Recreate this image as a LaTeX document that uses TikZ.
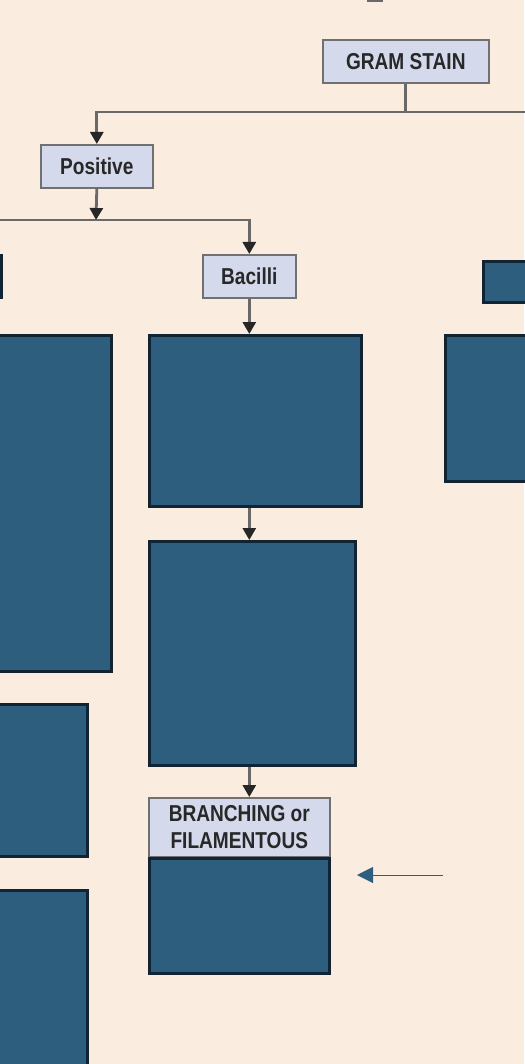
\documentclass[tikz,border=0pt]{standalone}
\usepackage{fontspec}
\setmainfont{Liberation Sans}[FakeStretch=0.83]
\usetikzlibrary{arrows.meta}
\definecolor{bg}{RGB}{250,237,224}
\definecolor{lav}{RGB}{212,217,236}
\definecolor{lavb}{RGB}{112,112,112}
\definecolor{navy}{RGB}{46,94,126}
\definecolor{navyb}{RGB}{16,36,52}
\definecolor{connc}{RGB}{105,105,105}
\definecolor{txt}{RGB}{40,40,40}
\begin{document}
\begin{tikzpicture}[x=1pt,y=-1pt,
  lbl/.style={draw=lavb, fill=lav, line width=1.6pt, inner sep=0pt, anchor=north west,
    font=\bfseries\fontsize{23}{27}\selectfont, text=txt, align=center},
  dbox/.style={draw=navyb, fill=navy, line width=2.6pt, inner sep=0pt, anchor=north west},
  connline/.style={draw=connc, line width=2.8pt},
  arr/.style={connline, -{Triangle[width=13pt,length=12pt,color=black!85]}},
  bluearr/.style={draw=navy, line width=1pt, -{Triangle[width=16pt,length=16pt]}}]
\fill[bg] (0,0) rectangle (524,1064);
\useasboundingbox (0,0) rectangle (524,1064);
% top fragment
\node[fill=connc, minimum width=16pt, minimum height=3pt, inner sep=0pt, anchor=north west] (topb) at (367,-1) {};
% labelled boxes
\node[lbl, minimum width=166pt, minimum height=43pt] (gram) at (322,39) {GRAM STAIN};
\node[lbl, minimum width=112pt, minimum height=43pt] (pos) at (40,144) {Positive};
\node[lbl, minimum width=93pt, minimum height=43pt] (bac) at (202,254) {Bacilli};
% dark boxes, middle column
\node[dbox, minimum width=212pt, minimum height=171pt] (d1) at (148,334) {};
\node[dbox, minimum width=206pt, minimum height=224pt] (d2) at (148,540) {};
\node[lbl, minimum width=181pt, minimum height=59pt] (brh) at (148,797) {BRANCHING or\\FILAMENTOUS};
\node[dbox, minimum width=180pt, minimum height=115pt] (brb) at (148,857) {};
% left column (cut off)
\node[dbox, minimum width=20pt, minimum height=42pt] (l0) at (-20,254) {};
\node[dbox, minimum width=130pt, minimum height=336pt] (l1) at (-20,334) {};
\node[dbox, minimum width=106pt, minimum height=152pt] (l2) at (-20,703) {};
\node[dbox, minimum width=106pt, minimum height=200pt] (l3) at (-20,889) {};
% right column (cut off)
\node[dbox, minimum width=80pt, minimum height=41pt] (r1) at (482,260) {};
\node[dbox, minimum width=120pt, minimum height=146pt] (r2) at (444,334) {};
% connectors
\coordinate (hR) at (540,112);
\draw[connline] (gram.south) |- (hR);
\draw[arr] (gram.south) |- (pos.north |- hR) -- (pos.north);
\coordinate (j2) at (96,220);
\draw[arr] (pos.south) -- (j2);
\coordinate (hL2) at (-10,220);
\draw[arr] (hL2) -| (bac.north);
\draw[arr] (bac.south) -- (bac.south |- d1.north);
\draw[arr] (bac.south |- d1.south) -- (bac.south |- d2.north);
\draw[arr] (bac.south |- d2.south) -- (bac.south |- brh.north);
% blue pointer
\coordinate (bs) at (443,875);
\coordinate (be) at (357,875);
\draw[bluearr] (bs) -- (be);
\end{tikzpicture}
\end{document}
